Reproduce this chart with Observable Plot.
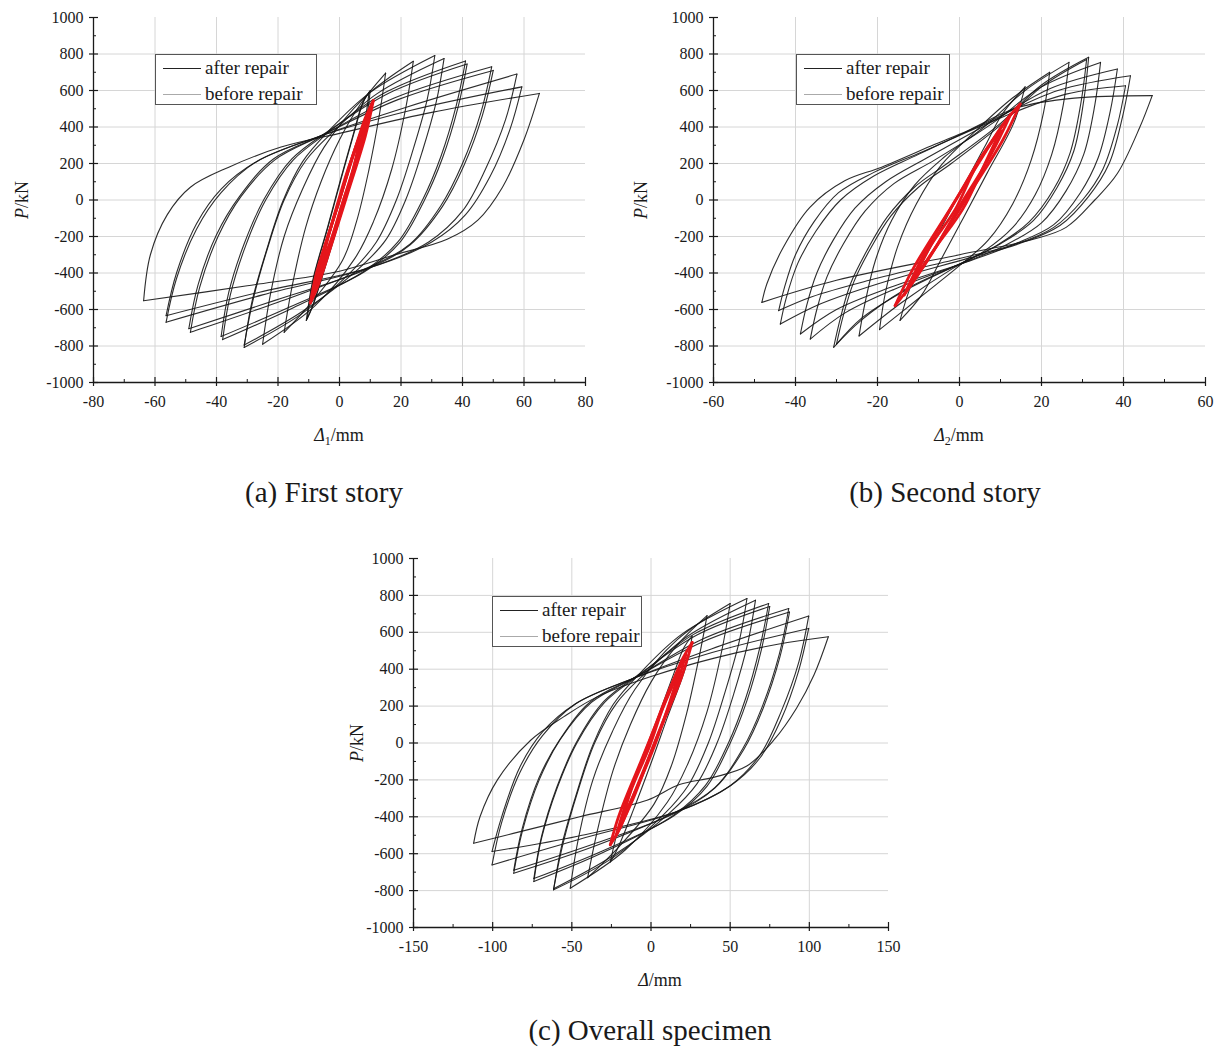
<!DOCTYPE html>
<html><head><meta charset="utf-8">
<script src="https://cdn.jsdelivr.net/npm/d3@7"></script>
<script src="https://cdn.jsdelivr.net/npm/@observablehq/plot@0.6"></script>
<style>
body{margin:0;background:#fff;}
#page{position:relative;width:1226px;height:1051px;overflow:hidden;font-family:"Liberation Serif","Times New Roman",serif;color:#1a1a1a;background:#fff;}
.panel{position:absolute;}
.panel svg{overflow:visible;}
.ylab{position:absolute;transform:translate(-50%,-50%) rotate(-90deg);font-size:18px;white-space:nowrap;}
.xlab{position:absolute;transform:translate(-50%,-50%);font-size:18px;white-space:nowrap;}
.cap{position:absolute;transform:translate(-50%,-50%);font-size:29px;white-space:nowrap;}
.legend{position:absolute;border:1px solid #555;background:#fff;box-sizing:border-box;}
.legend .ln{position:absolute;left:7px;width:38px;height:0;border-top:1px solid #222;}
.legend .tx{position:absolute;left:49px;font-size:19px;line-height:19px;white-space:nowrap;}
</style></head>
<body><div id="page"></div>
<script>
// ---------------- data: load P (kN) vs displacement (mm), branches ----------------
const pTicks = [-1000,-800,-600,-400,-200,0,200,400,600,800,1000];
const pMinor = [-900,-700,-500,-300,-100,100,300,500,700,900];
const pGrid = [-800,-600,-400,-200,0,200,400,600,800];

const firstTicks = [-80,-60,-40,-20,0,20,40,60,80];
const firstMinor = [-70,-50,-30,-10,10,30,50,70];
const firstGrid = [-60,-40,-20,0,20,40,60];

const secondTicks = [-60,-40,-20,0,20,40,60];
const secondMinor = [-50,-30,-10,10,30,50];
const secondGrid = [-40,-20,0,20,40];

const overallTicks = [-150,-100,-50,0,50,100,150];
const overallMinor = [-125,-75,-25,25,75,125];
const overallGrid = [-100,-50,0,50,100];

// (a) First story, after repair
const firstAfter = [
 [[10,600],[8.5,420],[4,140],[0,-110],[-4.5,-360],[-8.5,-570],[-10.5,-650]],
 [[-10.5,-650],[-8.4,-430],[-3.6,-140],[0.6,120],[4.6,360],[7.8,540],[10,600]],
 [[9.6,590],[8,410],[3.6,130],[-0.4,-120],[-4.8,-370],[-8.8,-585],[-10.8,-660]],
 [[-10.8,-660],[-8.7,-440],[-3.9,-150],[0.3,110],[4.3,350],[7.5,530],[9.6,590]],
 [[15,695],[13,470],[9.5,160],[5.5,-120],[1,-330],[-9,-560],[-18,-725]],
 [[-18,-725],[-15.5,-480],[-11,-150],[-6,100],[0,330],[7,530],[15,695]],
 [[24,760],[21.5,500],[17,170],[11,-120],[5,-320],[-8,-580],[-25,-790]],
 [[-25,-790],[-22.5,-520],[-18,-200],[-12,60],[-5,290],[8,560],[24,760]],
 [[31,792],[28.5,550],[24,280],[18.5,0],[12,-230],[4,-390],[-12,-620],[-31,-808]],
 [[-31,-808],[-28.5,-560],[-24,-290],[-18.5,-10],[-12,210],[-4,370],[10,590],[31,792]],
 [[34,775],[31.5,540],[27,270],[21.5,0],[15,-220],[6,-380],[-12,-610],[-31,-795]],
 [[-31,-795],[-28,-540],[-23.5,-270],[-18,0],[-11,215],[-2,375],[12,580],[34,775]],
 [[41,762],[38,520],[33,240],[27,0],[19,-230],[8,-390],[-15,-590],[-38,-765]],
 [[-38,-765],[-35.5,-520],[-30.5,-250],[-24,0],[-15,220],[-3,380],[15,590],[41,762]],
 [[41.5,745],[38.5,505],[33.5,230],[27.5,-5],[19.5,-235],[8,-395],[-16,-585],[-38.5,-748]],
 [[-38.5,-748],[-36,-505],[-31,-240],[-24.5,5],[-15.5,225],[-3,385],[16,585],[41.5,745]],
 [[49.5,730],[46,480],[40,200],[33,-30],[23,-240],[8,-380],[-20,-560],[-48.5,-725]],
 [[-48.5,-725],[-45.5,-480],[-39.5,-200],[-32,20],[-21,220],[-5,360],[18,560],[49.5,730]],
 [[50,710],[46.5,465],[40.5,190],[33.5,-35],[23,-245],[8,-385],[-21,-550],[-49,-705]],
 [[-49,-705],[-46,-465],[-40,-190],[-32.5,20],[-21.5,225],[-5,360],[19,550],[50,710]],
 [[57.7,690],[54,440],[47.5,170],[40,-60],[29,-230],[10,-370],[-25,-520],[-56.4,-670]],
 [[-56.4,-670],[-53,-430],[-46.5,-160],[-38.5,40],[-27,210],[-8,340],[22,510],[57.7,690]],
 [[59.3,620],[55.5,390],[49,130],[41,-80],[30,-230],[10,-370],[-26,-505],[-56.4,-634]],
 [[-56.4,-634],[-53,-400],[-46.5,-130],[-38.5,60],[-27,210],[-8,340],[23,490],[59.3,620]],
 [[65,584],[60,330],[53,70],[45,-110],[35,-215],[18,-300],[0,-390],[-30,-470],[-63.7,-552]],
 [[-63.7,-552],[-61.5,-300],[-56,-80],[-48.5,70],[-36,180],[-19,290],[0,365],[30,480],[65,584]]
];
// (a) First story, before repair
const firstBefore = [
 [[11,545],[8.4,350],[2.9,50],[-2.7,-250],[-7.2,-480],[-9.5,-565]],
 [[-9.5,-565],[-7.5,-400],[-1.9,-100],[3.6,200],[8.4,450],[11,545]],
 [[10,500],[7.2,300],[1.7,0],[-3.9,-300],[-8.8,-525]],
 [[-8.8,-525],[-5.5,-300],[0,0],[5.5,300],[10,500]],
 [[8.5,430],[6,250],[1.4,0],[-3.2,-250],[-7.5,-450]],
 [[-7.5,-450],[-4.6,-250],[0,0],[4.4,250],[8.5,430]],
 [[6.5,330],[4.6,180],[0.9,-20],[-2.8,-220],[-5.8,-350]],
 [[-5.8,-350],[-3.6,-200],[-0.3,0],[3.2,190],[6.5,330]]
];

// (b) Second story, after repair
const secondAfter = [
 [[16,620],[13.2,420],[6.8,150],[0.9,-100],[-4.6,-330],[-9.2,-520],[-14.5,-660]],
 [[-14.5,-660],[-11.5,-450],[-5.1,-180],[0.6,60],[6.1,290],[10.4,470],[16,620]],
 [[22,700],[20.5,480],[17.5,220],[13,-20],[7,-220],[0,-360],[-10,-540],[-19.5,-710]],
 [[-19.5,-710],[-18,-500],[-15,-250],[-10.5,-20],[-4.5,190],[4,380],[13,560],[22,700]],
 [[26.7,754],[25.3,520],[22.5,250],[18.5,30],[13,-150],[6,-280],[-2,-380],[-14,-560],[-24.5,-745]],
 [[-24.5,-745],[-23,-560],[-20.5,-330],[-16.5,-110],[-11,80],[-4,230],[6,400],[16,600],[26.7,754]],
 [[31.5,782],[30.3,544],[27.9,270],[23.8,69],[18,-113],[10,-240],[2,-330],[-14,-500],[-24,-660],[-30.7,-807]],
 [[-30.7,-807],[-29,-643],[-26.6,-460],[-22.6,-278],[-17.7,-95],[-11,70],[-3,200],[10,420],[20,630],[31.5,782]],
 [[31,770],[29.6,530],[27,260],[23,60],[17,-120],[9,-250],[1,-340],[-14,-505],[-24,-650],[-30,-790]],
 [[-30,-790],[-28.3,-630],[-25.8,-450],[-21.8,-270],[-16.8,-90],[-10,70],[-2,200],[10,410],[20,620],[31,770]],
 [[34.4,754],[33,520],[30.3,250],[26,50],[20,-125],[11,-250],[2,-335],[-16,-490],[-28,-620],[-36.4,-762]],
 [[-36.4,-762],[-34.8,-600],[-32.3,-420],[-28.3,-240],[-23,-60],[-16,90],[-6,220],[8,420],[20,620],[34.4,754]],
 [[38.5,718],[36.8,490],[33.8,230],[29.5,40],[23,-135],[13,-245],[3,-330],[-17,-480],[-30,-600],[-38.8,-734]],
 [[-38.8,-734],[-37.3,-580],[-34.8,-400],[-30.8,-220],[-25.5,-45],[-18,100],[-8,230],[8,430],[22,610],[38.5,718]],
 [[41.7,681],[39.8,460],[36.5,200],[31.5,20],[24.5,-140],[14.5,-240],[2,-320],[-20,-460],[-34,-570],[-43.7,-680]],
 [[-43.7,-680],[-42.3,-540],[-39.5,-350],[-35,-170],[-29,0],[-21,130],[-10,250],[8,440],[24,600],[41.7,681]],
 [[40.5,626],[38.5,410],[35,170],[30,0],[23,-150],[14,-240],[1,-315],[-22,-440],[-36,-530],[-44.1,-606]],
 [[-44.1,-606],[-42.7,-480],[-40,-300],[-35.5,-120],[-29.5,40],[-21,150],[-9,265],[10,450],[26,580],[40.5,626]],
 [[47,572],[44,400],[38.5,145],[33,0],[26,-150],[18,-215],[0,-300],[-30,-440],[-48.2,-561]],
 [[-48.2,-561],[-47,-460],[-43,-260],[-36.5,-40],[-28,105],[-19,180],[-6,305],[2,380],[14,505],[28,558],[47,572]]
];
// (b) Second story, before repair
const secondBefore = [
 [[14.8,526],[10.6,330],[2,20],[-7,-300],[-12,-470],[-15.7,-579]],
 [[-15.7,-579],[-11.4,-380],[-2.6,-60],[5.7,240],[10.8,420],[14.8,526]],
 [[12.5,470],[7.7,250],[-0.4,-50],[-6.9,-300],[-13.5,-520]],
 [[-13.5,-520],[-8.7,-300],[-0.9,0],[5.7,250],[12.5,470]],
 [[10,380],[6.2,200],[0.8,-50],[-5.5,-250],[-11,-430]],
 [[-11,-430],[-7,-250],[-1,-50],[4.4,200],[10,380]]
];

// (c) Overall specimen, after repair
const overallAfter = [
 [[26,580],[22.2,420],[10.4,140],[0,-110],[-11,-360],[-21,-570],[-25.7,-645]],
 [[-25.7,-645],[-19.6,-430],[-7.4,-140],[3.6,120],[13.7,360],[21,520],[26,580]],
 [[35.4,690],[30.5,470],[22.5,160],[13,-120],[2,-330],[-20,-560],[-40,-730]],
 [[-40,-730],[-34,-480],[-24,-150],[-13,100],[0,330],[16.5,530],[35.4,690]],
 [[50,756],[44.7,500],[35.4,170],[22.9,-120],[10.4,-320],[-16.3,-580],[-51,-787]],
 [[-51,-787],[-45.9,-520],[-36.7,-200],[-24.5,60],[-10.2,290],[16.6,560],[50,756]],
 [[60.6,783],[55.7,550],[46.9,280],[36.2,0],[23.5,-230],[7.8,-390],[-23.8,-620],[-61.5,-796]],
 [[-61.5,-796],[-56.5,-560],[-47.6,-290],[-36.7,-10],[-23.8,210],[-7.9,370],[19.5,590],[60.6,783]],
 [[66,774],[61.1,540],[52.4,270],[41.7,0],[29.1,-220],[11.6,-380],[-23.8,-610],[-61.5,-790]],
 [[-61.5,-790],[-55.4,-540],[-46.5,-270],[-35.6,0],[-21.8,215],[-4,375],[23.3,580],[66,774]],
 [[74.3,756],[68.8,520],[59.7,240],[48.9,0],[34.4,-230],[14.5,-390],[-29.3,-590],[-74,-751]],
 [[-74,-751],[-69.2,-520],[-59.5,-250],[-46.8,0],[-29.3,220],[-5.5,380],[27.2,590],[74.3,756]],
 [[75,740],[69.7,505],[60.6,230],[49.8,-5],[35.3,-235],[14.5,-395],[-30.7,-585],[-74,-735]],
 [[-74,-735],[-69.1,-505],[-59.5,-240],[-47,5],[-29.8,225],[-5.4,385],[29,585],[75,740]],
 [[87,729],[81,480],[70.4,200],[58,-30],[40.5,-240],[14.1,-380],[-35.8,-560],[-86.7,-706]],
 [[-86.7,-706],[-81.3,-480],[-70.6,-200],[-57.2,20],[-37.6,220],[-8.8,360],[31.7,560],[87,729]],
 [[87.5,710],[81.4,465],[70.9,190],[58.6,-35],[40.3,-245],[14,-385],[-37.2,-550],[-86.7,-690]],
 [[-86.7,-690],[-81.4,-465],[-70.8,-190],[-57.5,20],[-38,225],[-8.9,360],[33.2,550],[87.5,710]],
 [[99.6,688],[93.4,440],[82.2,170],[69.2,-60],[50.2,-230],[17.3,-370],[-44.5,-520],[-100.4,-661]],
 [[-100.4,-661],[-94.3,-430],[-82.8,-160],[-68.5,40],[-48,210],[-14.2,340],[38.1,510],[99.6,688]],
 [[99.6,621],[93.2,390],[82.3,130],[68.9,-80],[50.4,-230],[16.8,-370],[-46.3,-505],[-100.4,-588]],
 [[-100.4,-588],[-94.3,-400],[-82.8,-130],[-68.5,60],[-48.1,210],[-14.2,340],[38.6,490],[99.6,621]],
 [[112,576],[103,370],[92,190],[77.5,15],[60.5,-125],[40,-185],[18,-225],[-2.5,-310],[-45,-400],[-87,-490],[-112,-543]],
 [[-112,-543],[-108,-400],[-97,-200],[-76,15],[-55,143],[-34,250],[0,360],[40,460],[80,535],[112,576]]
];
// (c) Overall specimen, before repair
const overallBefore = [
 [[26,545],[19,350],[4.7,50],[-9.5,-250],[-20,-470],[-25.7,-552]],
 [[-25.7,-552],[-20.5,-400],[-6.4,-100],[7.8,200],[19.6,450],[26,545]],
 [[22,480],[15.7,300],[2.2,0],[-11.2,-300],[-22,-500]],
 [[-22,-500],[-14.8,-300],[-1.4,0],[12.1,300],[22,480]],
 [[18,390],[11,200],[2,-20],[-9.3,-250],[-18,-410]],
 [[-18,-410],[-12.3,-250],[-1,-20],[8,200],[18,390]]
];

// ---------------- drawing ----------------
const toRows = branches => branches.flatMap((br, i) => br.map(([x, y]) => ({x, y, b: i})));
const fmt = d => String(d);

function makePanel({after, before, xDomain, xTicks, xMinor, xGrid, width, height, mL, mR, mT, mB}) {
  return Plot.plot({
    width, height, marginLeft: mL, marginRight: mR, marginTop: mT, marginBottom: mB,
    x: {domain: xDomain, axis: null, label: null},
    y: {domain: [-1000, 1000], axis: null, label: null},
    style: {fontFamily: '"Liberation Serif","Times New Roman",serif', fontSize: "16px", color: "#1a1a1a", background: "transparent", overflow: "visible"},
    marks: [
      Plot.gridX(xGrid, {stroke: "#d6d6d6", strokeOpacity: 1, strokeWidth: 1}),
      Plot.gridY(pGrid, {stroke: "#d6d6d6", strokeOpacity: 1, strokeWidth: 1}),
      Plot.line(toRows(after), {x: "x", y: "y", z: "b", curve: "catmull-rom", stroke: "#161616", strokeWidth: 1.1, strokeOpacity: 0.9}),
      Plot.line(toRows(before), {x: "x", y: "y", z: "b", curve: "catmull-rom", stroke: "#e5151b", strokeWidth: 2.8}),
      Plot.ruleX([xDomain[0]], {stroke: "#1a1a1a", strokeWidth: 1.3}),
      Plot.ruleY([-1000], {stroke: "#1a1a1a", strokeWidth: 1.3}),
      Plot.axisX({ticks: xTicks, tickSize: 0, tickPadding: 13, tickFormat: fmt, label: null}),
      Plot.axisX({ticks: xTicks, tickSize: 4, fill: "none", label: null, strokeWidth: 1.2}),
      Plot.axisX({ticks: xTicks, tickSize: -5, fill: "none", label: null, strokeWidth: 1.2}),
      Plot.axisX({ticks: xMinor, tickSize: -3, fill: "none", label: null}),
      Plot.axisY({ticks: pTicks, tickSize: 0, tickPadding: 10, tickFormat: fmt, label: null}),
      Plot.axisY({ticks: pTicks, tickSize: 4, fill: "none", label: null, strokeWidth: 1.2}),
      Plot.axisY({ticks: pTicks, tickSize: -5, fill: "none", label: null, strokeWidth: 1.2}),
      Plot.axisY({ticks: pMinor, tickSize: -3, fill: "none", label: null})
    ]
  });
}

const page = document.getElementById("page");
function place(el, left, top) { el.classList.add("panel"); el.style.left = left + "px"; el.style.top = top + "px"; page.appendChild(el); }
function addHTML(cls, html, x, y) { const d = document.createElement("div"); d.className = cls; d.innerHTML = html; d.style.left = x + "px"; d.style.top = y + "px"; page.appendChild(d); }
function addLegend(left, top, w, h) {
  const d = document.createElement("div"); d.className = "legend";
  Object.assign(d.style, {left: left + "px", top: top + "px", width: w + "px", height: h + "px"});
  d.innerHTML = '<div class="ln" style="top:13px;border-color:#222"></div><div class="tx" style="top:3px">after repair</div>' +
                '<div class="ln" style="top:39px;border-color:#aaa"></div><div class="tx" style="top:29px">before repair</div>';
  page.appendChild(d);
}

place(makePanel({after: firstAfter, before: firstBefore, xDomain: [-80, 80], xTicks: firstTicks, xMinor: firstMinor, xGrid: firstGrid, width: 600, height: 460, mL: 93, mR: 15, mT: 17, mB: 78}), 0, 0);
place(makePanel({after: secondAfter, before: secondBefore, xDomain: [-60, 60], xTicks: secondTicks, xMinor: secondMinor, xGrid: secondGrid, width: 600, height: 460, mL: 93, mR: 15, mT: 17, mB: 78}), 620, 0);
place(makePanel({after: overallAfter, before: overallBefore, xDomain: [-150, 150], xTicks: overallTicks, xMinor: overallMinor, xGrid: overallGrid, width: 600, height: 460, mL: 93, mR: 32, mT: 18, mB: 73}), 320, 540);

addLegend(155, 54, 162, 51);
addLegend(796, 54, 154, 51);
addLegend(492, 596, 150, 51);

addHTML("ylab", "<i>P</i>/kN", 22, 200);
addHTML("ylab", "<i>P</i>/kN", 641, 200);
addHTML("ylab", "<i>P</i>/kN", 357, 743);
addHTML("xlab", "<i>Δ</i><sub style='font-size:12px'>1</sub>/mm", 339, 437);
addHTML("xlab", "<i>Δ</i><sub style='font-size:12px'>2</sub>/mm", 959, 437);
addHTML("xlab", "<i>Δ</i>/mm", 660, 980);
addHTML("cap", "(a) First story", 324, 492);
addHTML("cap", "(b) Second story", 945, 492);
addHTML("cap", "(c) Overall specimen", 650, 1030);
</script>
</body></html>
